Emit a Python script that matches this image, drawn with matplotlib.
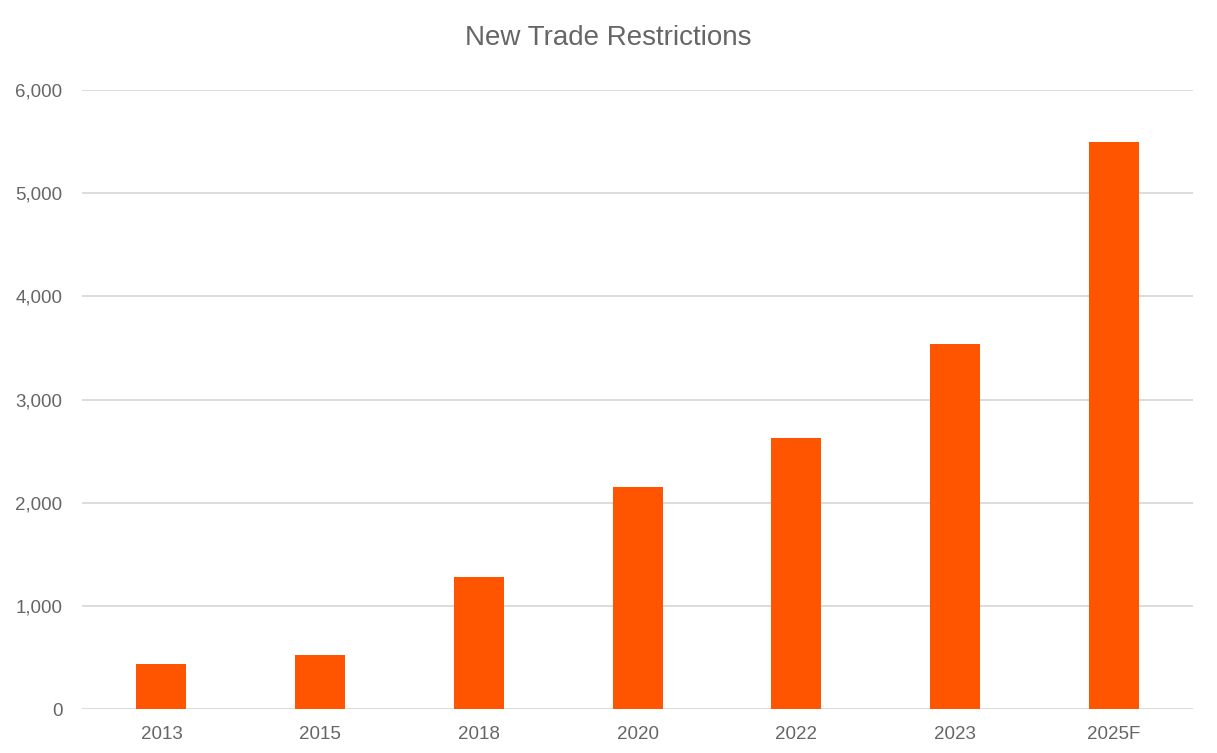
import matplotlib
matplotlib.use("Agg")
import matplotlib.pyplot as plt
from matplotlib.ticker import FuncFormatter

years = ["2013", "2015", "2018", "2020", "2022", "2023", "2025F"]
restrictions = [435, 520, 1280, 2150, 2625, 3540, 5500]

plt.rcParams['font.family'] = ['Liberation Sans', 'DejaVu Sans']

fig = plt.figure(figsize=(12.17, 7.53), dpi=100)
ax = fig.add_axes([0.0674, 0.0584, 0.9129, 0.8221])

x = range(len(years))
ax.bar(x, restrictions, width=0.315, color="#FF5500", zorder=3)

ax.set_xlim(-0.5, len(years) - 0.5)
ax.set_ylim(0, 6000)
ax.set_yticks(range(0, 6001, 1000))
ax.yaxis.set_major_formatter(FuncFormatter(lambda v, p: f"{int(v):,}"))
ax.set_xticks(list(x))
ax.set_xticklabels(years)

ax.grid(axis="y", color="#d9d9d9", linewidth=1.3, zorder=0)
for s in ["top", "right", "left", "bottom"]:
    ax.spines[s].set_visible(False)
ax.tick_params(axis="both", length=0, labelsize=13.5, colors="#666666")
ax.tick_params(axis="y", pad=14)
ax.tick_params(axis="x", pad=12)

fig.text(0.5, 0.950, "New Trade Restrictions", ha="center", va="center",
         fontsize=20, color="#666666")

fig.savefig("out.png", dpi=100)
